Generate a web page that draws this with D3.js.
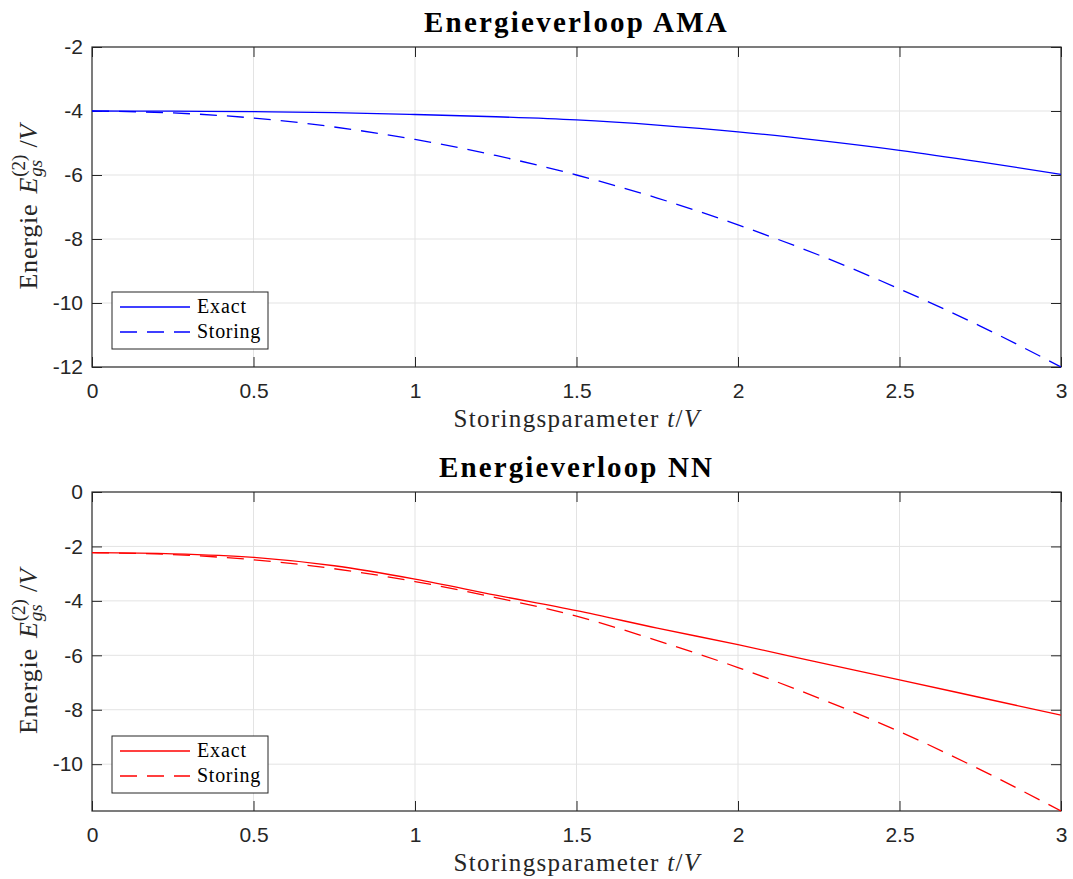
<!DOCTYPE html>
<html>
<head>
<meta charset="utf-8">
<script src="https://cdn.jsdelivr.net/npm/d3@7"></script>
<style>
  body { margin: 0; background: #fff; }
  svg { display: block; }
</style>
</head>
<body>
<script>
// t/V values where the curves were read
const tVals = [0, 0.25, 0.5, 0.75, 1, 1.25, 1.5, 1.75, 2, 2.25, 2.5, 2.75, 3]

// AMA panel
const amaExact   = [-4, -4.005, -4.02, -4.05, -4.11, -4.18, -4.28, -4.44, -4.65, -4.92, -5.23, -5.59, -5.98]
const amaStoring = [-4, -4.06, -4.22, -4.5, -4.89, -5.39, -6, -6.72, -7.56, -8.5, -9.56, -10.72, -12]

// NN panel
const nnExact   = [-2.23, -2.27, -2.4, -2.71, -3.2, -3.79, -4.36, -5.0, -5.61, -6.26, -6.9, -7.55, -8.2]
const nnStoring = [-2.23, -2.3, -2.49, -2.82, -3.29, -3.88, -4.56, -5.46, -6.45, -7.57, -8.8, -10.2, -11.72]

const xTicks = [0, 0.5, 1, 1.5, 2, 2.5, 3]
const xTickLabels = ['0', '0.5', '1', '1.5', '2', '2.5', '3']
const amaYTicks = [-12, -10, -8, -6, -4, -2]
const nnYTicks = [-10, -8, -6, -4, -2, 0]

const seriesNames = ['Exact', 'Storing']

const W = 1073, H = 879
const left = 92, right = 1061
const serif = "'Liberation Serif', 'Times New Roman', serif"
const sans = "'Liberation Sans', Arial, Helvetica, sans-serif"
const axisColor = '#262626'

const svg = d3.select('body').append('svg')
  .attr('width', W)
  .attr('height', H)

// stretch a text to the width it has in the reference
function fitText(sel, target) {
  const n = sel.text().length
  const w = sel.node().getComputedTextLength()
  sel.attr('letter-spacing', (target - w) / n)
}

function panel(cfg) {
  const top = cfg.top, bottom = cfg.bottom
  const x = d3.scaleLinear().domain([0, 3]).range([left, right])
  const y = d3.scaleLinear().domain(cfg.yDomain).range([bottom, top])
  const g = svg.append('g')

  // grid
  g.append('g').selectAll('line').data(xTicks.slice(1, -1)).enter().append('line')
    .attr('x1', d => x(d)).attr('x2', d => x(d))
    .attr('y1', top).attr('y2', bottom)
    .attr('stroke', '#e3e3e3').attr('stroke-width', 1)
  g.append('g').selectAll('line').data(cfg.yTicks.filter(d => y(d) > top + 1 && y(d) < bottom - 1)).enter().append('line')
    .attr('x1', left).attr('x2', right)
    .attr('y1', d => y(d)).attr('y2', d => y(d))
    .attr('stroke', '#e3e3e3').attr('stroke-width', 1)

  // axes with inward ticks on all four sides
  const ax = [
    [d3.axisBottom(x).tickValues(xTicks).tickFormat((d, i) => xTickLabels[i]), bottom, 'x', 'bottom'],
    [d3.axisTop(x).tickValues(xTicks).tickFormat(''), top, 'x', 'top'],
    [d3.axisLeft(y).tickValues(cfg.yTicks).tickFormat(d => String(d)), left, 'y', 'left'],
    [d3.axisRight(y).tickValues(cfg.yTicks).tickFormat(''), right, 'y', 'right']
  ]
  ax.forEach(([a, pos, dir, side]) => {
    const ag = g.append('g')
      .attr('transform', dir === 'x' ? `translate(0,${pos})` : `translate(${pos},0)`)
      .call(a.tickSizeInner(-10).tickSizeOuter(0).tickPadding(18))
    ag.select('.domain').remove()
    ag.selectAll('.tick line').attr('stroke', axisColor)
    const tt = ag.selectAll('.tick text')
      .attr('fill', axisColor)
      .style('font-family', sans)
      .style('font-size', '21px')
    if (side === 'bottom') tt.attr('y', 13).attr('dy', '0.85em')
    if (side === 'left') tt.attr('x', -9)
  })

  g.append('rect')
    .attr('x', left).attr('y', top)
    .attr('width', right - left).attr('height', bottom - top)
    .attr('fill', 'none').attr('stroke', axisColor).attr('stroke-width', 1.2)

  // curves
  const line = d3.line().curve(d3.curveMonotoneX).x(d => x(d[0])).y(d => y(d[1]))
  const clipId = 'clip' + cfg.id
  svg.append('clipPath').attr('id', clipId).append('rect')
    .attr('x', left).attr('y', top - 1).attr('width', right - left).attr('height', bottom - top + 2)
  const lg = g.append('g').attr('clip-path', `url(#${clipId})`)
  lg.append('path')
    .datum(tVals.map((t, i) => [t, cfg.exact[i]]))
    .attr('d', line).attr('fill', 'none')
    .attr('stroke', cfg.color).attr('stroke-width', 1.3)
  lg.append('path')
    .datum(tVals.map((t, i) => [t, cfg.storing[i]]))
    .attr('d', line).attr('fill', 'none')
    .attr('stroke', cfg.color).attr('stroke-width', 1.3)
    .attr('stroke-dasharray', '17,10')

  // title
  const title = g.append('text')
    .attr('x', (left + right) / 2).attr('y', top - 15)
    .attr('text-anchor', 'middle')
    .style('font-family', serif).style('font-weight', 'bold').style('font-size', '29px')
    .text(cfg.title)
  fitText(title, cfg.titleWidth)

  // x label
  const xl = g.append('text')
    .attr('x', 577).attr('y', bottom + 60)
    .attr('text-anchor', 'middle')
    .style('font-family', serif).style('font-size', '25px').attr('fill', axisColor)
  xl.append('tspan').text('Storingsparameter ')
  xl.append('tspan').style('font-style', 'italic').text('t')
  xl.append('tspan').text('/')
  xl.append('tspan').style('font-style', 'italic').text('V')
  fitText(xl, 247)

  // y label (rotated)
  const yc = (top + bottom) / 2
  const yg = g.append('g').attr('transform', `translate(37,${yc}) rotate(-90)`)
    .style('font-family', serif).attr('fill', axisColor)
  const t1 = yg.append('text').style('font-size', '26px').attr('letter-spacing', 0.8).text('Energie')
  const t2 = yg.append('text').style('font-size', '26px').style('font-style', 'italic').text('E')
  const t3 = yg.append('text').style('font-size', '19px').style('font-style', 'italic').text('gs')
  const t4 = yg.append('text').style('font-size', '19px').text('(2)')
  const t5 = yg.append('text').style('font-size', '26px').text('/')
  const t6 = yg.append('text').style('font-size', '26px').style('font-style', 'italic').text('V')
  const w1 = t1.node().getComputedTextLength()
  const w2 = t2.node().getComputedTextLength()
  const w3 = t3.node().getComputedTextLength()
  const w4 = t4.node().getComputedTextLength()
  const w5 = t5.node().getComputedTextLength()
  const w6 = t6.node().getComputedTextLength()
  const gap = 10
  const subW = Math.max(w3, w4) + 7
  const total = w1 + gap + w2 + 1 + subW + w5 + w6
  let cx = -total / 2
  t1.attr('x', cx); cx += w1 + gap
  t2.attr('x', cx); cx += w2 + 1
  t3.attr('x', cx).attr('y', 5)
  t4.attr('x', cx).attr('y', -12); cx += subW
  t5.attr('x', cx); cx += w5
  t6.attr('x', cx)

  // legend
  const lx = left + 20, ly = bottom - 75, lw = 156, lh = 57
  const leg = g.append('g')
  leg.append('rect').attr('x', lx).attr('y', ly).attr('width', lw).attr('height', lh)
    .attr('fill', '#fff').attr('stroke', axisColor).attr('stroke-width', 1)
  seriesNames.forEach((name, i) => {
    const ry = ly + 15 + i * 25
    leg.append('line')
      .attr('x1', lx + 8).attr('x2', lx + 78)
      .attr('y1', ry).attr('y2', ry)
      .attr('stroke', cfg.color).attr('stroke-width', 1.3)
      .attr('stroke-dasharray', i === 1 ? '17,10' : null)
    const lt = leg.append('text')
      .attr('x', lx + 85).attr('y', ry + 6)
      .style('font-family', serif).style('font-size', '20px')
      .text(name)
    fitText(lt, i === 0 ? 50 : 64)
  })
}

panel({ id: 'a', top: 47, bottom: 367, yDomain: [-12, -2], yTicks: amaYTicks,
  exact: amaExact, storing: amaStoring, color: '#0000ff',
  title: 'Energieverloop AMA', titleWidth: 305 })
panel({ id: 'b', top: 492, bottom: 811, yDomain: [-11.72, 0], yTicks: nnYTicks,
  exact: nnExact, storing: nnStoring, color: '#ff0000',
  title: 'Energieverloop NN', titleWidth: 275 })
</script>
</body>
</html>
